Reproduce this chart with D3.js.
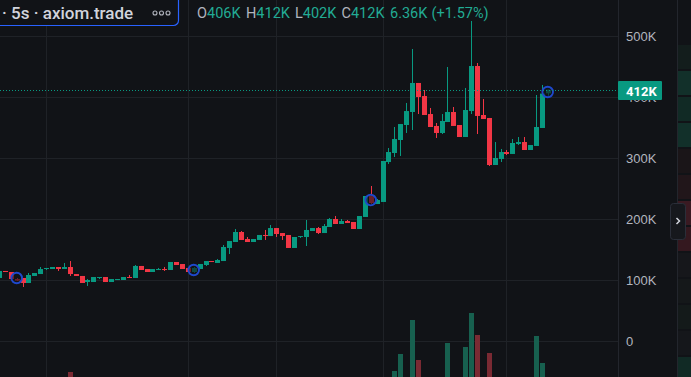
<!DOCTYPE html>
<html>
<head>
    <meta charset="utf-8">
    <title>axiom.trade 5s</title>
    <style>
        body {
            margin: 0;
            background: #111317;
            overflow: hidden;
        }

        svg {
            display: block;
            font-family: Roboto, 'Trebuchet MS', sans-serif;
        }

        .grid line {
            stroke: #1f2227;
            shape-rendering: crispEdges;
        }

        .y .domain,
        .y .tick line {
            display: none;
        }

        .y .tick text {
            fill: #b2b5be;
            font-size: 13px;
        }

        .legend-key {
            fill: #b2b5be;
        }

        .legend-val {
            fill: #22ab94;
        }
    </style>
</head>

<body>
    <svg width="691" height="377"></svg>

    <script src="https://d3js.org/d3.v7.min.js"></script>
    <script>
        // price values in K, one entry per 5s bar
        let open = [103.3, 114.8, 113.1, 101.6, 103.3, 95.1, 106.6, 109.8, 118.0, 118.0,
            121.3, 118.0, 121.3, 109.8, 106.6, 96.7, 96.7, 103.3, 104.9, 96.7,
            100.0, 100.0, 104.9, 103.3, 123.0, 118.0, 113.1, 116.4, 118.0, 116.4,
            129.5, 126.2, 119.7, 113.1, 118.0, 124.6, 131.1, 127.9, 131.1, 152.5,
            162.3, 178.7, 167.2, 162.3, 165.6, 173.8, 172.1, 185.2, 177.0, 173.8,
            152.5, 170.5, 170.5, 180.3, 185.2, 177.0, 186.9, 200.0, 191.8, 196.7,
            195.1, 183.6, 203.3, 237.7, 224.6, 227.9, 293.4, 308.2, 329.5, 354.1,
            375.4, 423.0, 401.6, 372.1, 352.5, 341.0, 359.0, 375.4, 354.1, 334.4,
            377.0, 450.8, 370.5, 365.6, 288.5, 298.4, 309.8, 306.6, 323.0, 326.2,
            313.1, 319.7, 349.2, 406.0];
        let high = [114.8, 114.8, 113.1, 103.3, 103.3, 111.5, 111.5, 121.3, 119.7, 121.3,
            121.3, 127.9, 131.1, 109.8, 106.6, 101.6, 104.9, 104.9, 104.9, 101.6,
            101.6, 104.9, 108.2, 124.6, 123.0, 118.0, 118.0, 119.7, 121.3, 129.5,
            129.5, 126.2, 119.7, 121.3, 126.2, 131.1, 131.1, 134.4, 157.4, 163.9,
            183.6, 180.3, 170.5, 167.2, 173.8, 182.0, 190.2, 185.2, 177.0, 173.8,
            170.5, 172.1, 198.4, 185.2, 186.9, 191.8, 201.6, 204.9, 200.0, 198.4,
            195.1, 204.9, 237.7, 254.1, 232.8, 295.1, 316.4, 350.8, 355.7, 390.2,
            478.7, 423.0, 411.5, 382.0, 357.4, 372.1, 449.2, 383.6, 354.1, 414.8,
            524.6, 455.7, 396.7, 365.6, 326.2, 314.8, 313.1, 331.1, 334.4, 334.4,
            321.3, 403.3, 419.7, 412.0];
        let low = [103.3, 113.1, 101.6, 98.4, 88.5, 95.1, 106.6, 109.8, 116.4, 118.0,
            114.8, 118.0, 106.6, 106.6, 95.1, 90.2, 96.7, 101.6, 96.7, 96.7,
            100.0, 100.0, 103.3, 103.3, 116.4, 113.1, 113.1, 116.4, 114.8, 116.4,
            124.6, 118.0, 113.1, 111.5, 118.0, 123.0, 129.5, 127.9, 131.1, 142.6,
            162.3, 165.6, 162.3, 162.3, 165.6, 165.6, 172.1, 170.5, 165.6, 152.5,
            152.5, 168.9, 155.7, 180.3, 175.4, 177.0, 186.9, 191.8, 191.8, 193.4,
            183.6, 183.6, 203.3, 224.6, 224.6, 227.9, 290.2, 301.6, 303.3, 341.0,
            345.9, 372.1, 370.5, 350.8, 332.8, 339.3, 359.0, 352.5, 334.4, 334.4,
            372.1, 339.3, 363.9, 286.9, 288.5, 293.4, 304.9, 306.6, 321.3, 313.1,
            313.1, 319.7, 349.2, 402.0];
        let close = [114.8, 113.1, 101.6, 99.0, 95.1, 108.2, 111.5, 118.0, 119.7, 121.3,
            118.0, 121.3, 109.8, 106.6, 95.1, 100.0, 104.9, 104.9, 96.7, 101.6,
            101.6, 104.9, 103.3, 123.0, 116.4, 113.1, 118.0, 118.0, 116.4, 129.5,
            124.6, 118.0, 113.1, 119.7, 126.2, 131.1, 129.5, 132.8, 154.1, 163.9,
            178.7, 165.6, 162.3, 167.2, 173.8, 172.1, 185.2, 175.4, 172.1, 152.5,
            170.5, 172.1, 182.0, 185.2, 177.0, 188.5, 200.0, 191.8, 196.7, 193.4,
            183.6, 204.9, 237.7, 226.2, 231.1, 295.1, 309.8, 331.1, 355.7, 377.0,
            423.0, 400.0, 370.5, 350.8, 341.0, 360.7, 375.4, 352.5, 334.4, 378.7,
            450.8, 368.9, 363.9, 288.5, 300.0, 309.8, 306.6, 324.6, 326.2, 313.1,
            321.3, 350.8, 405.6, 412.0];
        let volume = [6, 3, 8, 10, 14, 9, 5, 7, 4, 3,
            5, 6, 28, 9, 12, 8, 6, 4, 7, 5,
            3, 5, 4, 15, 8, 6, 5, 3, 4, 10,
            7, 8, 6, 5, 9, 7, 3, 6, 18, 14,
            16, 12, 8, 5, 7, 6, 12, 9, 6, 15,
            13, 4, 17, 6, 8, 9, 12, 10, 5, 4,
            11, 16, 20, 14, 6, 22, 18, 29, 46, 21,
            80, 40, 19, 15, 10, 14, 57, 16, 12, 53,
            87, 65, 11, 47, 13, 9, 4, 10, 5, 8,
            6, 64, 37, 9];

        // blue trade markers (bar index, price in K)
        let markerIdx = [3, 33, 63, 93];
        let markerPrice = [103.3, 116.4, 231.1, 408.2];

        let priceTicks = [0, 100, 200, 300, 400, 500];
        let timeGridIdx = [8, 32, 47, 65, 86];

        let lastPrice = 412;
        let legendTitle = '· 5s · axiom.trade';
        let legendKeys = ['O', 'H', 'L', 'C', '', ''];
        let legendVals = ['406K', '412K', '402K', '412K', '6.36K', '(+1.57%)'];

        // side strip colours (right edge panel)
        let stripColors = ['#131d1c', '#12302a', '#112a25', '#12302a', '#1a1518', '#21161a',
            '#3a1a22', '#34181f', '#16171b', '#15181a', '#141a1a', '#15171b', '#112a25'];

        let upColor = '#089981';
        let downColor = '#f23645';

        let width = 691;
        let height = 377;
        let chartRight = 618;

        let svg = d3.select('svg');

        svg.append('rect')
            .attr('width', width)
            .attr('height', height)
            .attr('fill', '#111317');

        let x = d3.scaleLinear()
            .domain([0, 105])
            .range([-1, 618.5]);

        let y = d3.scaleLinear()
            .domain([0, 500])
            .range([341, 36]);

        let yVol = d3.scaleLinear()
            .domain([0, 100])
            .range([400, 300]);

        // grid
        let grid = svg.append('g').attr('class', 'grid');

        grid.selectAll('.hgrid')
            .data(priceTicks)
            .join('line')
            .attr('class', 'hgrid')
            .attr('x1', 0)
            .attr('x2', chartRight)
            .attr('y1', d => Math.round(y(d)) + 0.5)
            .attr('y2', d => Math.round(y(d)) + 0.5);

        grid.selectAll('.vgrid')
            .data(timeGridIdx)
            .join('line')
            .attr('class', 'vgrid')
            .attr('x1', d => Math.round(x(d)) + 0.5)
            .attr('x2', d => Math.round(x(d)) + 0.5)
            .attr('y1', 0)
            .attr('y2', height);

        let bars = d3.range(open.length);

        // volume pane
        svg.append('g')
            .selectAll('rect')
            .data(bars)
            .join('rect')
            .attr('x', i => Math.round(x(i)) - 2)
            .attr('width', 5)
            .attr('y', i => yVol(volume[i]))
            .attr('height', i => yVol(0) - yVol(volume[i]))
            .attr('fill', i => close[i] >= open[i] ? '#17604f' : '#7a2a33');

        // candles
        let candles = svg.append('g')
            .selectAll('g')
            .data(bars)
            .join('g');

        candles.append('line')
            .attr('x1', i => Math.round(x(i)) + 0.5)
            .attr('x2', i => Math.round(x(i)) + 0.5)
            .attr('y1', i => y(high[i]))
            .attr('y2', i => y(low[i]))
            .attr('stroke', i => close[i] >= open[i] ? upColor : downColor)
            .attr('stroke-width', 1);

        candles.append('rect')
            .attr('x', i => Math.round(x(i)) - 2)
            .attr('width', 5)
            .attr('y', i => y(Math.max(open[i], close[i])))
            .attr('height', i => Math.max(1, Math.abs(y(open[i]) - y(close[i]))))
            .attr('fill', i => close[i] >= open[i] ? upColor : downColor);

        // markers
        svg.append('g')
            .selectAll('circle')
            .data(markerIdx)
            .join('circle')
            .attr('cx', i => x(i))
            .attr('cy', (i, k) => y(markerPrice[k]))
            .attr('r', 5.3)
            .attr('fill', '#111317')
            .attr('fill-opacity', 0.6)
            .attr('stroke', '#1f48cc')
            .attr('stroke-width', 1.9);

        // last price line
        svg.append('line')
            .attr('x1', 0)
            .attr('x2', chartRight)
            .attr('y1', Math.round(y(lastPrice)) + 0.5)
            .attr('y2', Math.round(y(lastPrice)) + 0.5)
            .attr('stroke', upColor)
            .attr('stroke-dasharray', '1,2');

        // price scale
        svg.append('rect')
            .attr('x', chartRight)
            .attr('y', 0)
            .attr('width', width - chartRight)
            .attr('height', height)
            .attr('fill', '#111317');

        svg.append('g')
            .attr('class', 'y axis')
            .attr('transform', `translate(${chartRight},0)`)
            .call(d3.axisRight(y)
                .tickValues(priceTicks)
                .tickSize(0)
                .tickPadding(8)
                .tickFormat(d => d === 0 ? '0' : d + 'K'));

        // side strip
        let stripH = 26;
        svg.append('g')
            .selectAll('rect')
            .data(stripColors)
            .join('rect')
            .attr('x', 678)
            .attr('width', 13)
            .attr('y', (d, k) => 45 + k * stripH)
            .attr('height', stripH - 2)
            .attr('fill', d => d);

        svg.append('line')
            .attr('x1', chartRight + 0.5)
            .attr('x2', chartRight + 0.5)
            .attr('y1', 0)
            .attr('y2', height)
            .attr('stroke', '#23262d');

        svg.append('line')
            .attr('x1', 677.5)
            .attr('x2', 677.5)
            .attr('y1', 0)
            .attr('y2', height)
            .attr('stroke', '#23262d');

        // last price label
        let ly = Math.round(y(lastPrice));
        svg.append('rect')
            .attr('x', chartRight)
            .attr('y', ly - 9)
            .attr('width', 44)
            .attr('height', 19)
            .attr('rx', 1)
            .attr('fill', upColor);

        svg.append('text')
            .attr('x', 626)
            .attr('y', ly + 1)
            .attr('dominant-baseline', 'central')
            .attr('fill', '#ffffff')
            .attr('font-size', 13)
            .attr('font-weight', 700)
            .text(lastPrice + 'K');

        // scroll button
        svg.append('rect')
            .attr('x', 670.5)
            .attr('y', 203.5)
            .attr('width', 15)
            .attr('height', 36)
            .attr('rx', 3)
            .attr('fill', '#16181d')
            .attr('stroke', '#2a2e39');

        svg.append('path')
            .attr('d', 'M676.5,218 L679.5,221 L676.5,224')
            .attr('fill', 'none')
            .attr('stroke', '#d1d4dc')
            .attr('stroke-width', 1.5);

        // legend
        svg.append('rect')
            .attr('x', -10)
            .attr('y', -10)
            .attr('width', 188.5)
            .attr('height', 35.5)
            .attr('rx', 5)
            .attr('fill', '#111317')
            .attr('stroke', '#2962ff')
            .attr('stroke-width', 1.2);

        svg.append('text')
            .attr('x', 2)
            .attr('y', 19)
            .attr('fill', '#d1d4dc')
            .attr('font-size', 17)
            .attr('font-weight', 500)
            .text(legendTitle);

        svg.append('g')
            .selectAll('circle')
            .data([155, 161.5, 168])
            .join('circle')
            .attr('cx', d => d)
            .attr('cy', 13)
            .attr('r', 2)
            .attr('fill', 'none')
            .attr('stroke', '#b2b5be')
            .attr('stroke-width', 1.1);

        let legendX = [197, 246, 295, 341.5, 390, 431.5];
        let legend = svg.append('g')
            .selectAll('text')
            .data(legendVals)
            .join('text')
            .attr('x', (d, k) => legendX[k])
            .attr('y', 18)
            .attr('font-size', 14.5);

        legend.append('tspan')
            .attr('class', 'legend-key')
            .text((d, k) => legendKeys[k]);

        legend.append('tspan')
            .attr('class', 'legend-val')
            .text(d => d);
    </script>
</body>
</html>
